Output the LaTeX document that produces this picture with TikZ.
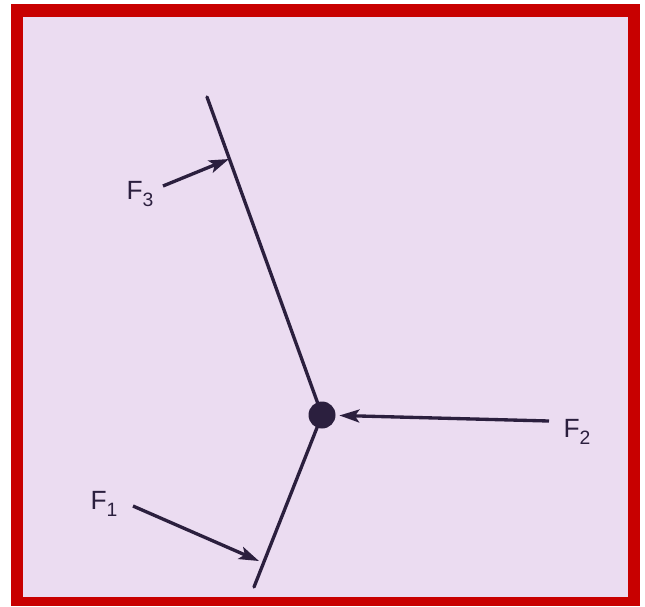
\documentclass[tikz,border=0pt]{standalone}
\usepackage{fontspec}
\setmainfont{Liberation Sans}
\usetikzlibrary{arrows.meta}

\definecolor{sheet}{HTML}{EBDCF1}
\definecolor{ink}{HTML}{2B1F3E}
\definecolor{frame}{HTML}{C80000}

\tikzset{
  rod/.style={ink, line width=1.9pt, line cap=round},
  force/.style={ink, line width=1.9pt, -{Stealth[length=4mm, width=2.6mm, inset=0.9mm]}},
  lbl/.style={ink, inner sep=0pt, font=\fontsize{15}{17}\selectfont}
}
\newcommand{\subidx}[1]{\raisebox{-0.45ex}{\fontsize{11}{12}\selectfont #1}}

\begin{document}
\begin{tikzpicture}[x=0.02cm, y=-0.02cm]
  \useasboundingbox (0,0) rectangle (645,606);
  \fill[white] (0,0) rectangle (645,606);
  \fill[frame] (11,4) rectangle (640,606);
  \fill[sheet] (23,17) rectangle (628,597);

  % joint and rods
  \node[circle, fill=ink, inner sep=0pt, minimum size=0.54cm] (dot) at (322,415) {};
  \coordinate (top) at (207,97);
  \coordinate (bottom) at (254,587);
  \draw[rod] (top) -- (dot.center);
  \draw[rod] (dot.center) -- (bottom);

  % forces
  \node[lbl] (f1) at (104,504) {F\subidx{1}};
  \node[lbl] (f2) at (577,432) {F\subidx{2}};
  \node[lbl] (f3) at (140,194) {F\subidx{3}};
  \coordinate (f1tail) at (133,506);
  \coordinate (f1tip) at (259,561);
  \coordinate (f2tail) at (549,421);
  \coordinate (f3tail) at (163,186);
  \coordinate (f3tip) at (229,159);
  \draw[force] (f1tail) -- (f1tip);
  \draw[force, shorten >=2pt] (f2tail) -- (dot);
  \draw[force] (f3tail) -- (f3tip);
\end{tikzpicture}
\end{document}
